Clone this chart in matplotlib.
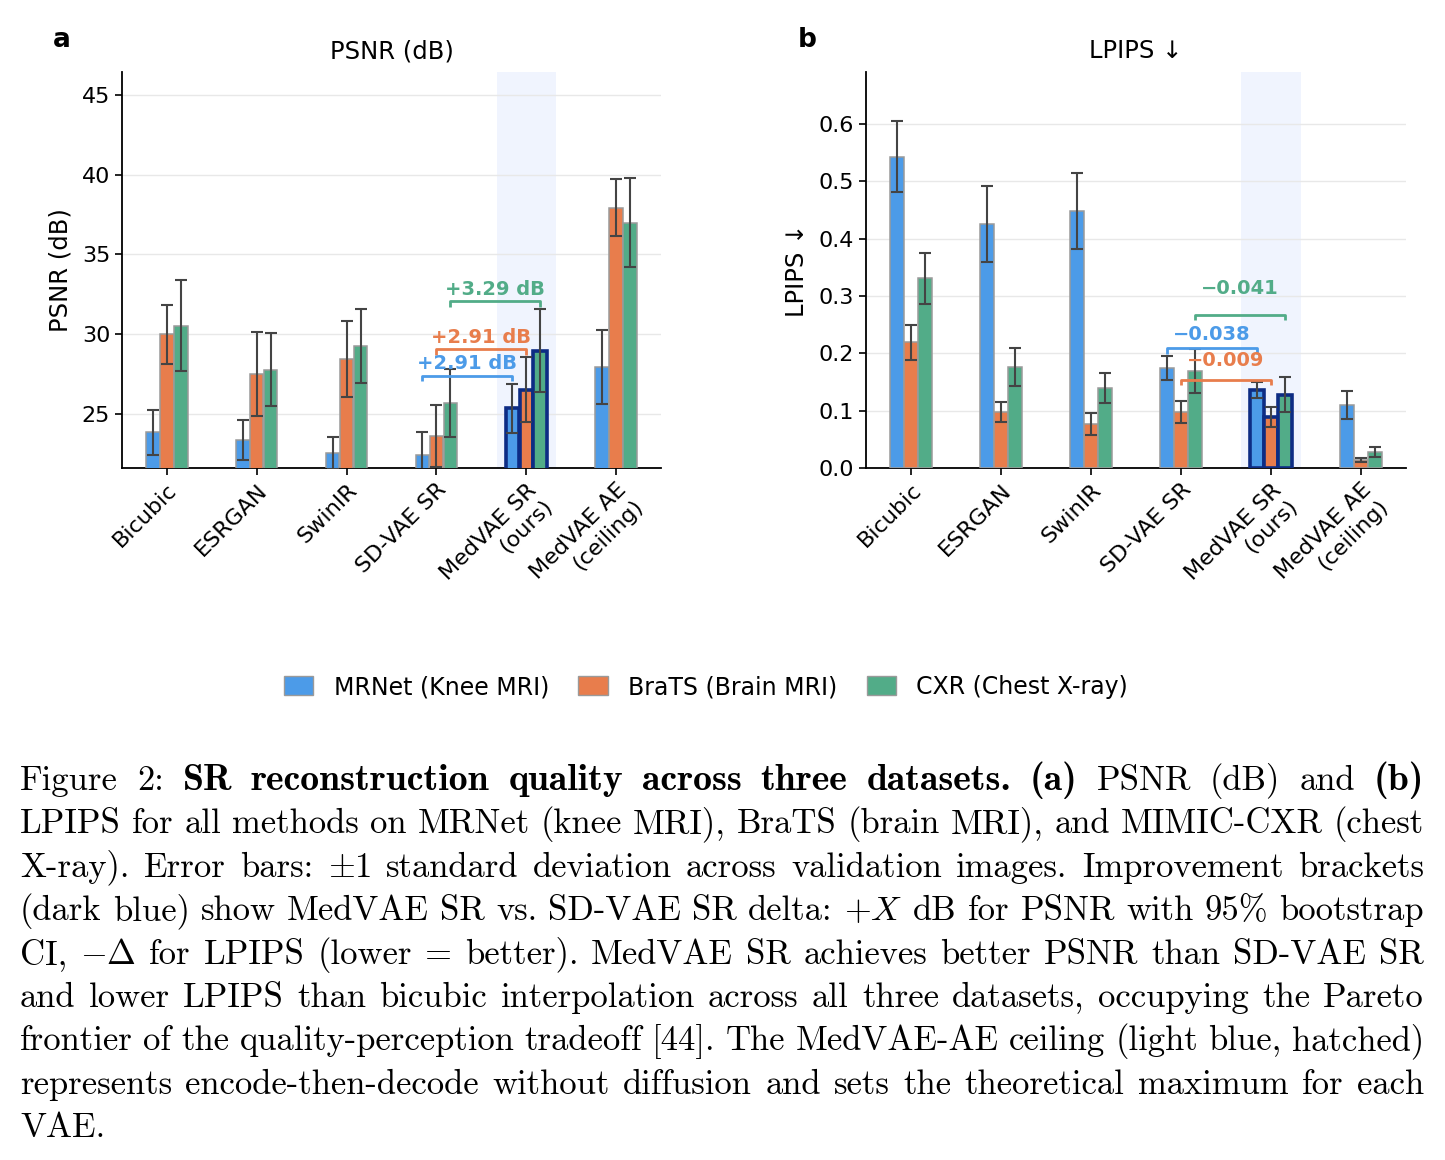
import matplotlib
matplotlib.use("Agg")
import matplotlib.pyplot as plt
import numpy as np
from matplotlib.patches import Patch

# ---------------- data ----------------
methods = ["Bicubic", "ESRGAN", "SwinIR", "SD-VAE SR", "MedVAE SR\n(ours)", "MedVAE AE\n(ceiling)"]
datasets = ["MRNet (Knee MRI)", "BraTS (Brain MRI)", "CXR (Chest X-ray)"]

psnr_mrnet = [23.85, 23.35, 22.55, 22.43, 25.34, 27.93]
psnr_mrnet_std = [1.42, 1.25, 1.00, 1.46, 1.56, 2.30]
psnr_brats = [30.00, 27.50, 28.43, 23.60, 26.51, 37.93]
psnr_brats_std = [1.85, 2.65, 2.40, 1.94, 2.05, 1.78]
psnr_cxr = [30.53, 27.78, 29.26, 25.67, 28.96, 37.00]
psnr_cxr_std = [2.85, 2.30, 2.30, 2.15, 2.60, 2.80]

lpips_mrnet = [0.543, 0.426, 0.448, 0.174, 0.136, 0.110]
lpips_mrnet_std = [0.062, 0.066, 0.066, 0.021, 0.014, 0.025]
lpips_brats = [0.219, 0.098, 0.077, 0.098, 0.089, 0.014]
lpips_brats_std = [0.031, 0.017, 0.019, 0.019, 0.018, 0.004]
lpips_cxr = [0.331, 0.176, 0.140, 0.169, 0.128, 0.028]
lpips_cxr_std = [0.045, 0.033, 0.026, 0.038, 0.030, 0.008]

psnr_delta_labels = ["+2.91 dB", "+2.91 dB", "+3.29 dB"]
lpips_delta_labels = ["\u22120.038", "\u22120.009", "\u22120.041"]

psnr_yticks = [25, 30, 35, 40, 45]
lpips_yticks = [0.0, 0.1, 0.2, 0.3, 0.4, 0.5, 0.6]

caption_lines = [
    [("Figure 2:", "r"), ("SR reconstruction quality across three datasets.", "b"), ("(a)", "b"),
     ("PSNR (dB) and", "r"), ("(b)", "b")],
    [("LPIPS for all methods on MRNet (knee MRI), BraTS (brain MRI), and MIMIC-CXR (chest", "r")],
    [("X-ray). Error bars: $\\pm$1 standard deviation across validation images. Improvement brackets", "r")],
    [("(dark blue) show MedVAE SR vs. SD-VAE SR delta: $+X$ dB for PSNR with 95% bootstrap", "r")],
    [("CI, $-\\Delta$ for LPIPS (lower = better). MedVAE SR achieves better PSNR than SD-VAE SR", "r")],
    [("and lower LPIPS than bicubic interpolation across all three datasets, occupying the Pareto", "r")],
    [("frontier of the quality-perception tradeoff [44]. The MedVAE-AE ceiling (light blue, hatched)", "r")],
    [("represents encode-then-decode without diffusion and sets the theoretical maximum for each", "r")],
    [("VAE.", "r")],
]

# ---------------- style ----------------
colors = ["#4C9BE8", "#E87D4C", "#52AC88"]
edge_gray = "#9a9a9a"
navy = "#0D2C84"
err_col = "#444444"
hl_col = "#F0F4FE"
ours_idx = 4
base_idx = 3

W, H = 1445, 1160
plt.rcParams["font.family"] = ["DejaVu Sans"]
plt.rcParams["mathtext.fontset"] = "cm"
fig = plt.figure(figsize=(W / 100, H / 100), dpi=100)

def px_axes(l, r, t, b):
    return [l / W, 1 - b / H, (r - l) / W, (b - t) / H]

ax_a = fig.add_axes(px_axes(122, 661, 72, 468))
ax_b = fig.add_axes(px_axes(866, 1406, 72, 468))

x = np.arange(len(methods))
bw = 0.15
offs = [-0.155, 0.0, 0.155]


def draw_panel(ax, vals, stds, ylim, yticks, fmt, title, ylabel, labels, bpad, tpad, tick_h):
    ax.axvspan(ours_idx - 0.33, ours_idx + 0.33, color=hl_col, zorder=0, lw=0)
    for k in range(3):
        ec = [navy if i == ours_idx else edge_gray for i in range(len(methods))]
        lw = [2.6 if i == ours_idx else 1.1 for i in range(len(methods))]
        ax.bar(x + offs[k], vals[k], width=bw, color=colors[k], edgecolor=ec, linewidth=lw, zorder=3)
        ax.errorbar(x + offs[k], vals[k], yerr=stds[k], fmt="none", ecolor=err_col,
                    elinewidth=1.5, capsize=4.5, capthick=1.5, zorder=4)
    ax.set_xlim(-0.5, len(methods) - 0.5)
    ax.set_ylim(*ylim)
    ax.set_yticks(yticks)
    ax.set_yticklabels([fmt.format(v) for v in yticks])
    ax.set_xticks(x)
    ax.set_xticklabels(methods, rotation=45, ha="right", rotation_mode="anchor")
    ax.grid(axis="y", color="#e8e8e8", lw=1.0, zorder=0)
    ax.set_axisbelow(True)
    for s in ["top", "right"]:
        ax.spines[s].set_visible(False)
    for s in ["left", "bottom"]:
        ax.spines[s].set_linewidth(1.3)
    ax.tick_params(axis="both", labelsize=16, length=5, width=1.2)
    ax.set_title(title, fontsize=17.5, pad=10)
    ax.set_ylabel(ylabel, fontsize=17.5, labelpad=7)
    # improvement brackets
    for k in range(3):
        x1 = base_idx + offs[k]
        x2 = ours_idx + offs[k]
        top = max(vals[k][base_idx] + stds[k][base_idx], vals[k][ours_idx] + stds[k][ours_idx])
        y = top + bpad[k]
        ax.plot([x1, x1, x2, x2], [y - tick_h, y, y, y - tick_h], color=colors[k], lw=2.0,
                zorder=5, solid_capstyle="butt")
        ax.annotate(labels[k], xy=((x1 + x2) / 2, y), xytext=(0, tpad[k]), textcoords="offset points",
                    ha="center", va="baseline", color=colors[k], fontsize=14, fontweight="bold", zorder=6)


draw_panel(ax_a, [psnr_mrnet, psnr_brats, psnr_cxr], [psnr_mrnet_std, psnr_brats_std, psnr_cxr_std],
           (21.6, 46.45), psnr_yticks, "{:.0f}", "PSNR (dB)", "PSNR (dB)", psnr_delta_labels,
           [0.5, 0.5, 0.5], [4.5, 4.5, 4.5], 0.35)
draw_panel(ax_b, [lpips_mrnet, lpips_brats, lpips_cxr], [lpips_mrnet_std, lpips_brats_std, lpips_cxr_std],
           (0.0, 0.691), lpips_yticks, "{:.1f}", "LPIPS \u2193", "LPIPS \u2193", lpips_delta_labels,
           [0.0136, 0.036, 0.060], [6, 10, 15], 0.009)

fig.text(62 / W, 1 - 40 / H, "a", fontsize=19, fontweight="bold", ha="center", va="center")
fig.text(807 / W, 1 - 40 / H, "b", fontsize=19, fontweight="bold", ha="center", va="center")

handles = [Patch(facecolor=colors[k], edgecolor=edge_gray, linewidth=1.0, label=datasets[k]) for k in range(3)]
fig.legend(handles=handles, loc="center", bbox_to_anchor=(706 / W, 1 - 687 / H), ncol=3, frameon=False,
           fontsize=17, handlelength=1.25, handleheight=0.85, handletextpad=0.85, columnspacing=1.25)

# ---------------- caption (justified) ----------------
renderer = fig.canvas.get_renderer()
left_px, right_px = 20.0, 1424.0
base0 = 790.0
line_step = 43.4
bold_scale = 1.09


def split_words(line):
    out = []
    for seg, st in line:
        for w in seg.split(" "):
            if w:
                out.append((w, st))
    return out


def make_text(w, st, fs):
    if st == "b":
        return fig.text(0, 0, w, fontfamily="cmb10", fontsize=fs * bold_scale, ha="left", va="baseline")
    return fig.text(0, 0, w, fontfamily="cmr10", fontsize=fs, ha="left", va="baseline")


fs0 = 26.0
maxnat = 0
for line in caption_lines:
    ws = split_words(line)
    tot = 0
    for w, st in ws:
        t = make_text(w, st, fs0)
        tot += t.get_window_extent(renderer).width
        t.remove()
    tot += (len(ws) - 1) * 0.30 * fs0 / 72 * 100
    maxnat = max(maxnat, tot)
cap_fs = min(fs0, fs0 * (right_px - left_px) / maxnat)

for i, line in enumerate(caption_lines):
    ws = split_words(line)
    texts = [make_text(w, st, cap_fs) for w, st in ws]
    widths = [t.get_window_extent(renderer).width for t in texts]
    nat_space = 0.333 * cap_fs / 72 * 100
    if i < len(caption_lines) - 1 and len(ws) > 1:
        space = (right_px - left_px - sum(widths)) / (len(ws) - 1)
    else:
        space = nat_space
    xp = left_px
    yp = base0 + i * line_step
    for t, wd in zip(texts, widths):
        t.set_position((xp / W, 1 - yp / H))
        xp += wd + space

fig.savefig("out.png", dpi=100)
